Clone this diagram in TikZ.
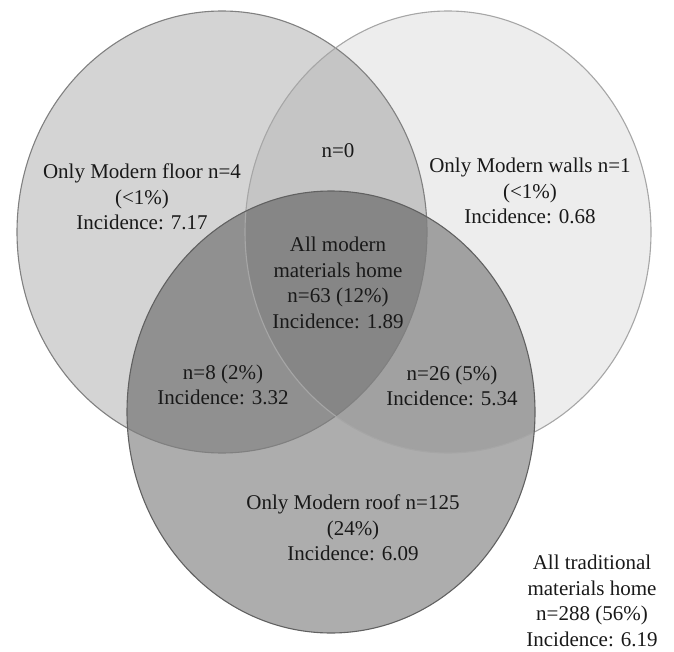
\documentclass[tikz,border=0pt]{standalone}
\usepackage{fontspec}
\setmainfont{Liberation Serif}

\begin{document}
\begin{tikzpicture}[x=1pt, y=-1pt,
	lbl/.style={align=center, inner sep=0pt, text=black!90, font=\fontsize{21}{25.5}\selectfont}]
	\useasboundingbox (0,0) rectangle (674,652);
	% circle fills
	\fill[black, fill opacity=0.17] (222,232) ellipse [x radius=205pt, y radius=221pt];
	\fill[black, fill opacity=0.07] (448,232) ellipse [x radius=203pt, y radius=221pt];
	\fill[black, fill opacity=0.32] (331,412) ellipse [x radius=204pt, y radius=221pt];
	% circle outlines
	\draw[black!50, line width=1.1pt] (222,232) ellipse [x radius=205pt, y radius=221pt];
	\draw[black!35, line width=1.1pt] (448,232) ellipse [x radius=203pt, y radius=221pt];
	\draw[black!62, line width=1.1pt] (331,412) ellipse [x radius=204pt, y radius=221pt];
	% labels
	\node[lbl] (floor) at (142,197) {Only Modern floor n=4\\(<1\%)\\Incidence: 7.17};
	\node[lbl] (walls) at (530,191) {Only Modern walls n=1\\(<1\%)\\Incidence: 0.68};
	\node[lbl] (floorwalls) at (338,151) {n=0};
	\node[lbl] (allmodern) at (338,283) {All modern\\materials home\\n=63 (12\%)\\Incidence: 1.89};
	\node[lbl] (floorroof) at (223,385) {n=8 (2\%)\\Incidence: 3.32};
	\node[lbl] (wallsroof) at (452,386) {n=26 (5\%)\\Incidence: 5.34};
	\node[lbl] (roof) at (353,528) {Only Modern roof n=125\\(24\%)\\Incidence: 6.09};
	\node[lbl] (traditional) at (592,601) {All traditional\\materials home\\n=288 (56\%)\\Incidence: 6.19};
\end{tikzpicture}
\end{document}
